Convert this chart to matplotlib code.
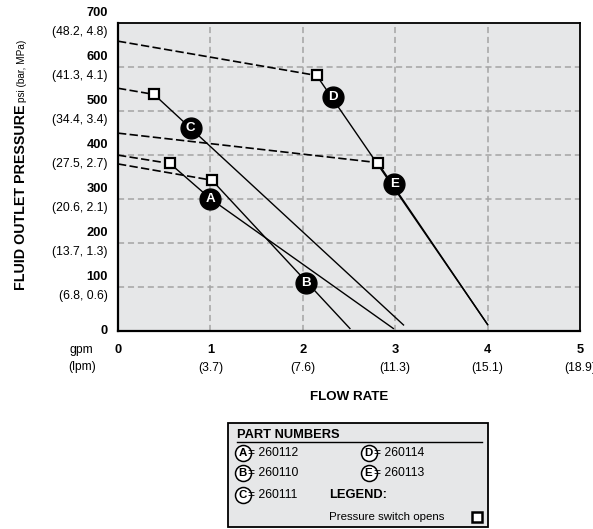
import matplotlib
matplotlib.use("Agg")
import matplotlib.pyplot as plt
from matplotlib import font_manager
from matplotlib.transforms import offset_copy
from matplotlib.patches import Rectangle

names = {f.name for f in font_manager.fontManager.ttflist}
fams = [n for n in ['Liberation Sans Narrow', 'DejaVu Sans Condensed', 'Liberation Sans'] if n in names]
plt.rcParams['font.family'] = fams + ['DejaVu Sans']
# condensed fonts missing -> shrink sizes a little
narrow = fams[0] in ('Liberation Sans Narrow', 'DejaVu Sans Condensed')
k = 1.0 if narrow else 0.92

# curve data (gpm, psi)
labels = ['A', 'B', 'C', 'D', 'E']
part_numbers = ['260112', '260110', '260111', '260114', '260113']
dash_start_psi = [399, 379, 551, 658, 449]
switch_gpm = [0.563, 1.017, 0.39, 2.15, 2.81]
switch_psi = [380, 342, 537, 580, 382]
solid_gpm = [[0.563, 1.0, 2.98], [1.017, 2.51], [0.39, 3.09], [2.15, 4.0], [2.81, 4.0]]
solid_psi = [[380, 300, 5], [342, 5], [537, 13], [580, 14], [382, 14]]
tag_gpm = [1.0, 2.03, 0.787, 2.33, 2.99]
tag_psi = [300, 108, 460, 530, 333]

y_ticks = [0, 100, 200, 300, 400, 500, 600, 700]
y_sub = ['', '(6.8, 0.6)', '(13.7, 1.3)', '(20.6, 2.1)', '(27.5, 2.7)',
         '(34.4, 3.4)', '(41.3, 4.1)', '(48.2, 4.8)']
x_ticks = [0, 1, 2, 3, 4, 5]
x_sub = ['', '(3.7)', '(7.6)', '(11.3)', '(15.1)', '(18.9)']

W, H = 593, 529
fig = plt.figure(figsize=(W / 100, H / 100), dpi=100)
ax = fig.add_axes([118 / W, 1 - 330.7 / H, 462 / W, 308 / H])
ax.set_facecolor('#e6e7e8')
ax.set_xlim(0, 5)
ax.set_ylim(0, 700)
ax.set_xticks(x_ticks[1:-1])
ax.set_yticks(y_ticks[1:-1])
ax.tick_params(length=0, labelbottom=False, labelleft=False)
ax.grid(True, color='#a4a4a4', lw=1.1, linestyle=(0, (4, 2.5)))
ax.set_axisbelow(True)
for sp in ax.spines.values():
    sp.set_linewidth(1.3)
ax.spines['left'].set_linewidth(1.6)
ax.spines['bottom'].set_linewidth(1.6)

for i in range(len(labels)):
    ax.plot([0, switch_gpm[i]], [dash_start_psi[i], switch_psi[i]], color='black',
            lw=1.2, linestyle=(0, (5, 2)), clip_on=False, zorder=3)
    ax.plot(solid_gpm[i], solid_psi[i], color='black', lw=1.0, zorder=3)
    ax.plot(switch_gpm[i], switch_psi[i], marker='s', ms=6.5, mfc='white',
            mec='black', mew=1.6, zorder=5)
    ax.plot(tag_gpm[i], tag_psi[i], marker='o', ms=15, color='black', zorder=6)
    ax.text(tag_gpm[i], tag_psi[i], labels[i], color='white', fontsize=10.5 * k,
            fontweight='bold', ha='center', va='center', zorder=7)

fs = 9.5 * k
# y tick labels
ytr = ax.get_yaxis_transform()
for v, s in zip(y_ticks, y_sub):
    if s:
        ax.text(-0.022, v, str(v), transform=offset_copy(ytr, fig, y=7, units='points'),
                ha='right', va='center', fontsize=fs + 0.5, fontweight='bold')
        ax.text(-0.022, v, s, transform=offset_copy(ytr, fig, y=-6.5, units='points'),
                ha='right', va='center', fontsize=fs)
    else:
        ax.text(-0.022, v, str(v), transform=ytr, ha='right', va='center',
                fontsize=fs + 0.5, fontweight='bold')

# x tick labels
xtr = ax.get_xaxis_transform()
for v, s in zip(x_ticks, x_sub):
    ax.text(v, 0, str(v), transform=offset_copy(xtr, fig, y=-14, units='points'),
            ha='center', va='center', fontsize=fs + 0.5, fontweight='bold', clip_on=False)
    if s:
        ax.text(v, 0, s, transform=offset_copy(xtr, fig, y=-26.5, units='points'),
                ha='center', va='center', fontsize=fs, clip_on=False)

# overlay in pixel coordinates for free text and the legend box
ov = fig.add_axes([0, 0, 1, 1])
ov.set_xlim(0, W)
ov.set_ylim(H, 0)
ov.axis('off')
ov.patch.set_alpha(0)

ov.text(81.7, 350, 'gpm', ha='center', va='center', fontsize=fs)
ov.text(81.7, 367, '(lpm)', ha='center', va='center', fontsize=fs)
ov.text(349, 397, 'FLOW RATE', ha='center', va='center', fontsize=10.5 * k, fontweight='bold')
ylab = ov.text(25, 290, 'FLUID OUTLET PRESSURE', rotation=90, rotation_mode='anchor',
               ha='left', va='baseline', fontsize=11.2 * k, fontweight='bold')
fig.canvas.draw()
bb = ylab.get_window_extent()
top_px = H - bb.y1
ov.text(25, top_px - 3, 'psi (bar, MPa)', rotation=90, rotation_mode='anchor',
        ha='left', va='baseline', fontsize=7.8 * k)

# legend box
ov.add_patch(Rectangle((228.3, 422.7), 260, 104.5, facecolor='#e6e7e8',
                       edgecolor='black', lw=1.3))
ov.text(237, 435, 'PART NUMBERS', ha='left', va='center', fontsize=fs + 0.5, fontweight='bold')
ov.plot([237, 481.7], [442.3, 442.3], color='black', lw=1)
rows = [453.3, 473.3, 494.5]
for i in range(len(labels)):
    cx = 242.5 if i < 3 else 368.5
    cy = rows[i % 3]
    ov.plot(cx, cy, marker='o', ms=11.5, mfc='white', mec='black', mew=1.1)
    ov.text(cx, cy, labels[i], ha='center', va='center', fontsize=9 * k, fontweight='bold')
    ov.text(cx + 6, cy, '= ' + part_numbers[i], ha='left', va='center', fontsize=fs)
ov.text(329.3, 494.5, 'LEGEND:', ha='left', va='center', fontsize=fs + 0.5, fontweight='bold')
ov.text(329.3, 516.7, 'Pressure switch opens', ha='left', va='center', fontsize=9 * k)
ov.plot(476.7, 516.7, marker='s', ms=7.5, mfc='white', mec='black', mew=1.8)

fig.savefig('out.png', dpi=100)
